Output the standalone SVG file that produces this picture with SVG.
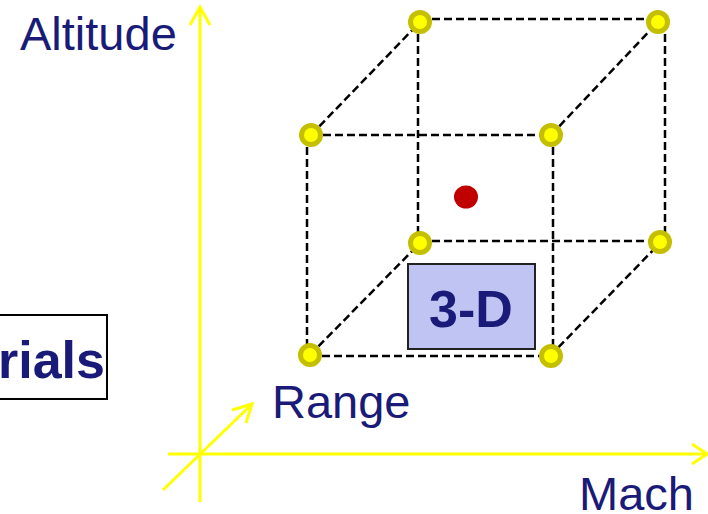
<svg xmlns="http://www.w3.org/2000/svg" width="708" height="514" viewBox="0 0 708 514">
<style>
.axis{stroke:#ffff00;stroke-width:3;fill:none;stroke-linecap:butt;stroke-linejoin:miter}
.edge{stroke:#000;stroke-width:2.5;stroke-dasharray:8,4;fill:none}
.pt{fill:#ffff00;stroke:#c4bf00;stroke-width:5}
.lbl{font-family:"Liberation Sans",Arial,sans-serif;fill:#1a1a78}
.bold{font-weight:bold}
</style>
<rect width="708" height="514" fill="#fff"/>
<g id="axes">
<line class="axis" x1="200" y1="9" x2="200" y2="502"/>
<polyline class="axis" points="190,25 200,7 210,25"/>
<line class="axis" x1="168" y1="454" x2="706" y2="454"/>
<polyline class="axis" points="692,444 707,454 692,464"/>
<line class="axis" x1="163" y1="490" x2="251" y2="405"/>
<polyline class="axis" points="232,410 252,404 246,423"/>
</g>
<g id="connectors">
<line class="edge" x1="311" y1="135" x2="551" y2="135"/>
<line class="edge" x1="307" y1="135" x2="307" y2="355"/>
<line class="edge" x1="310" y1="356" x2="550" y2="356"/>
<line class="edge" x1="553" y1="135" x2="553" y2="356"/>
<line class="edge" x1="420" y1="19" x2="658" y2="19"/>
<line class="edge" x1="418" y1="22" x2="418" y2="243"/>
<line class="edge" x1="420" y1="241" x2="661" y2="241"/>
<line class="edge" x1="665" y1="22" x2="665" y2="242"/>
<line class="edge" x1="311" y1="135" x2="420" y2="22"/>
<line class="edge" x1="551" y1="135" x2="658" y2="22"/>
<line class="edge" x1="310" y1="355" x2="420" y2="243"/>
<line class="edge" x1="550" y1="356" x2="661" y2="242"/>
</g>
<g id="box3d">
<rect x="408" y="264" width="127" height="85" fill="#bfc4f2" stroke="#222" stroke-width="2"/>
<text class="lbl bold" x="471" y="327" font-size="52" text-anchor="middle">3-D</text>
</g>
<g id="n1"><circle class="pt" cx="420" cy="22" r="9.5"/></g>
<g id="n2"><circle class="pt" cx="658" cy="22" r="9.5"/></g>
<g id="n3"><circle class="pt" cx="311" cy="135" r="9.5"/></g>
<g id="n4"><circle class="pt" cx="551" cy="135" r="9.5"/></g>
<g id="n5"><circle class="pt" cx="420" cy="243" r="9.5"/></g>
<g id="n6"><circle class="pt" cx="660" cy="242" r="9.5"/></g>
<g id="n7"><circle class="pt" cx="310" cy="355" r="9.5"/></g>
<g id="n8"><circle class="pt" cx="551" cy="356" r="9.5"/></g>
<g id="center"><ellipse cx="466" cy="197" rx="12" ry="11.5" fill="#c00000"/></g>
<g id="materials">
<rect x="-20" y="315" width="127" height="84" fill="#fff" stroke="#000" stroke-width="2"/>
<text class="lbl bold" x="105" y="378" font-size="52" text-anchor="end">rials</text>
</g>
<text class="lbl" x="20" y="50" font-size="47">Altitude</text>
<text class="lbl" x="272" y="418" font-size="47">Range</text>
<text class="lbl" x="579" y="510" font-size="47">Mach</text>
</svg>
